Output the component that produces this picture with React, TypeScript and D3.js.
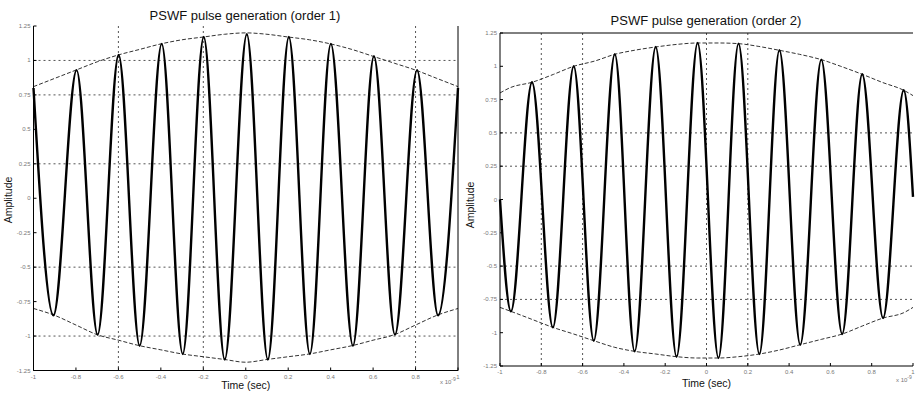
import React from "react";
import * as d3 from "d3";

// ---------- data ----------
const xTickValues = [-1, -0.8, -0.6, -0.4, -0.2, 0, 0.2, 0.4, 0.6, 0.8, 1];
const xTickLabels = ["-1", "-0.8", "-0.6", "-0.4", "-0.2", "0", "0.2", "0.4", "0.6", "0.8", "1"];
const yTickValues = [1.25, 1, 0.75, 0.5, 0.25, 0, -0.25, -0.5, -0.75, -1, -1.25];
const yTickLabels = ["1.25", "1", "0.75", "0.5", "0.25", "0", "-0.25", "-0.5", "-0.75", "-1", "-1.25"];

// order 1 pulse: extrema of the waveform (time x1e-9 s, amplitude)
const pulse1Time = [-1, -0.906, -0.797, -0.698, -0.599, -0.5, -0.396, -0.297, -0.198, -0.099, 0.005, 0.104, 0.203, 0.302, 0.401, 0.505, 0.604, 0.703, 0.807, 0.906, 1];
const pulse1Amp = [0.8, -0.85, 0.93, -0.99, 1.04, -1.07, 1.12, -1.13, 1.17, -1.17, 1.19, -1.17, 1.17, -1.13, 1.12, -1.07, 1.03, -0.99, 0.93, -0.85, 0.8];
const env1UpperTime = [-1, -0.9, -0.8, -0.7, -0.6, -0.5, -0.4, -0.3, -0.2, -0.1, 0, 0.1, 0.2, 0.3, 0.4, 0.5, 0.6, 0.7, 0.8, 0.9, 1];
const env1UpperAmp = [0.81, 0.87, 0.93, 0.99, 1.04, 1.08, 1.12, 1.15, 1.17, 1.19, 1.2, 1.19, 1.17, 1.15, 1.12, 1.08, 1.03, 0.98, 0.93, 0.87, 0.81];
const env1LowerTime = [-1, -0.9, -0.8, -0.7, -0.6, -0.5, -0.4, -0.3, -0.2, -0.1, 0, 0.1, 0.2, 0.3, 0.4, 0.5, 0.6, 0.7, 0.8, 0.9, 1];
const env1LowerAmp = [-0.8, -0.85, -0.92, -0.99, -1.03, -1.07, -1.1, -1.13, -1.15, -1.17, -1.19, -1.17, -1.15, -1.13, -1.1, -1.07, -1.03, -0.99, -0.92, -0.85, -0.8];

// order 2 pulse
const pulse2Time = [-1, -0.947, -0.845, -0.744, -0.643, -0.546, -0.444, -0.348, -0.246, -0.145, -0.043, 0.058, 0.155, 0.256, 0.353, 0.454, 0.556, 0.657, 0.754, 0.855, 0.955, 1];
const pulse2Amp = [0.0, -0.84, 0.88, -0.96, 1.0, -1.06, 1.09, -1.14, 1.145, -1.18, 1.175, -1.19, 1.17, -1.16, 1.12, -1.09, 1.05, -1.01, 0.94, -0.89, 0.82, 0.02];
const env2UpperTime = [-1, -0.95, -0.845, -0.74, -0.643, -0.54, -0.444, -0.35, -0.246, -0.14, -0.043, 0.06, 0.155, 0.25, 0.353, 0.45, 0.556, 0.65, 0.754, 0.85, 0.955, 1];
const env2UpperAmp = [0.8, 0.84, 0.88, 0.94, 1.0, 1.04, 1.09, 1.12, 1.145, 1.165, 1.175, 1.175, 1.17, 1.15, 1.12, 1.09, 1.05, 1.0, 0.94, 0.88, 0.82, 0.78];
const env2LowerTime = [-1, -0.947, -0.845, -0.744, -0.643, -0.546, -0.444, -0.348, -0.246, -0.145, -0.043, 0.058, 0.155, 0.256, 0.353, 0.454, 0.556, 0.657, 0.754, 0.855, 0.955, 1];
const env2LowerAmp = [-0.81, -0.84, -0.9, -0.96, -1.01, -1.06, -1.11, -1.14, -1.16, -1.18, -1.19, -1.19, -1.18, -1.16, -1.13, -1.09, -1.05, -1.01, -0.95, -0.89, -0.85, -0.81];

// grid lines that show in the picture
const grid1X = [-0.6, -0.2, 0.8];
const grid1Y = [1, 0.75, 0.25, -0.5, -1];
const grid2X = [-0.8, -0.6, 0, 0.2];
const grid2Y = [0.5, 0.25, -0.5, -0.75];

const FONT = "Liberation Sans, Arial, sans-serif";

type PanelProps = {
  x0: number; x1: number; yTop: number; yBot: number;
  pt: number[]; pa: number[];
  ut: number[]; ua: number[];
  lt: number[]; la: number[];
  gx: number[]; gy: number[];
  title: string; titleX: number; titleY: number;
  xlabY: number; ylabX: number; ylabY: number;
  expX: number; expY: number;
  borders: { left: boolean; bottom: boolean; right: boolean; top: boolean };
};

function Panel(p: PanelProps) {
  const x = d3.scaleLinear().domain([-1, 1]).range([p.x0, p.x1]);
  const y = d3.scaleLinear().domain([-1.25, 1.25]).range([p.yBot, p.yTop]);
  const zip = (t: number[], a: number[]) => t.map((tv, i) => [tv, a[i]] as [number, number]);
  const sig = d3.line<[number, number]>().x(d => x(d[0])).y(d => y(d[1])).curveMonotoneX ? null : null;
  const line = d3.line<[number, number]>().x(d => x(d[0])).y(d => y(d[1])).curve(d3.curveMonotoneX);
  const env = d3.line<[number, number]>().x(d => x(d[0])).y(d => y(d[1])).curve(d3.curveMonotoneX);
  void sig;
  return (
    <g>
      {p.gy.map(v => (
        <line key={"gy" + v} x1={p.x0} x2={p.x1} y1={y(v)} y2={y(v)} stroke="#555" strokeWidth={1} strokeDasharray="2,3" />
      ))}
      {p.gx.map(v => (
        <line key={"gx" + v} x1={x(v)} x2={x(v)} y1={p.yTop} y2={p.yBot} stroke="#555" strokeWidth={1} strokeDasharray="2,3" />
      ))}
      <path d={env(zip(p.ut, p.ua)) || ""} fill="none" stroke="#333" strokeWidth={1} strokeDasharray="4,2" />
      <path d={env(zip(p.lt, p.la)) || ""} fill="none" stroke="#333" strokeWidth={1} strokeDasharray="4,2" />
      <path d={line(zip(p.pt, p.pa)) || ""} fill="none" stroke="#000" strokeWidth={2.4} strokeLinejoin="round" />
      {p.borders.left && <line x1={p.x0} x2={p.x0} y1={p.yTop} y2={p.yBot} stroke="#000" strokeWidth={1} />}
      {p.borders.bottom && <line x1={p.x0} x2={p.x1} y1={p.yBot} y2={p.yBot} stroke="#000" strokeWidth={1} />}
      {p.borders.right && <line x1={p.x1} x2={p.x1} y1={p.yTop} y2={p.yBot} stroke="#000" strokeWidth={1} />}
      {p.borders.top && <line x1={p.x0} x2={p.x1} y1={p.yTop} y2={p.yTop} stroke="#000" strokeWidth={1} />}
      {xTickValues.map((v, i) => (
        <g key={"xt" + v}>
          <line x1={x(v)} x2={x(v)} y1={p.yBot} y2={p.yBot - 3} stroke="#000" strokeWidth={1} />
          <text x={x(v)} y={p.yBot + 8} fontSize={6} fill="#777" textAnchor="middle" fontFamily={FONT}>{xTickLabels[i]}</text>
        </g>
      ))}
      {yTickValues.map((v, i) => (
        <g key={"yt" + v}>
          <line x1={p.x0} x2={p.x0 + 3} y1={y(v)} y2={y(v)} stroke="#000" strokeWidth={1} />
          <text x={p.x0 - 3} y={y(v) + 2} fontSize={6} fill="#777" textAnchor="end" fontFamily={FONT}>{yTickLabels[i]}</text>
        </g>
      ))}
      <text x={p.titleX} y={p.titleY} fontSize={13} textAnchor="middle" fontFamily={FONT} fill="#111">{p.title}</text>
      <text x={(p.x0 + p.x1) / 2} y={p.xlabY} fontSize={10.5} textAnchor="middle" fontFamily={FONT} fill="#111">Time (sec)</text>
      <text transform={`translate(${p.ylabX},${p.ylabY}) rotate(-90)`} fontSize={10.5} textAnchor="middle" fontFamily={FONT} fill="#111">Amplitude</text>
      <text x={p.expX} y={p.expY} fontSize={6} fill="#777" fontFamily={FONT}>x 10<tspan dy={-3} fontSize={5}>-9</tspan></text>
    </g>
  );
}

export default function App() {
  return (
    <svg width={916} height={393} style={{ position: "absolute", left: 0, top: 0, background: "#fff" }}>
      <rect width={916} height={393} fill="#fff" />
      <Panel
        x0={33.5} x1={458} yTop={26} yBot={370.5}
        pt={pulse1Time} pa={pulse1Amp}
        ut={env1UpperTime} ua={env1UpperAmp}
        lt={env1LowerTime} la={env1LowerAmp}
        gx={grid1X} gy={grid1Y}
        title="PSWF pulse generation (order 1)" titleX={245} titleY={20}
        xlabY={389} ylabX={12} ylabY={200}
        expX={440} expY={384}
        borders={{ left: true, bottom: true, right: true, top: false }}
      />
      <Panel
        x0={500} x1={913} yTop={33} yBot={366}
        pt={pulse2Time} pa={pulse2Amp}
        ut={env2UpperTime} ua={env2UpperAmp}
        lt={env2LowerTime} la={env2LowerAmp}
        gx={grid2X} gy={grid2Y}
        title="PSWF pulse generation (order 2)" titleX={706} titleY={25}
        xlabY={387} ylabX={474} ylabY={205}
        expX={896} expY={382}
        borders={{ left: true, bottom: true, right: false, top: true }}
      />
    </svg>
  );
}
